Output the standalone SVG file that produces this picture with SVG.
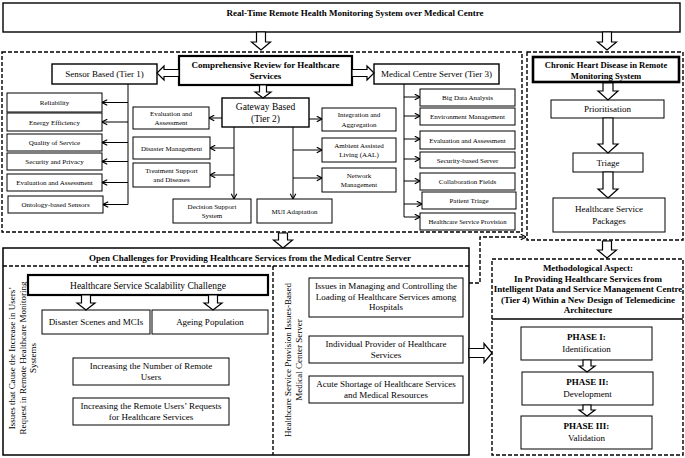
<svg xmlns="http://www.w3.org/2000/svg" width="685" height="458" viewBox="0 0 685 458">
<style>
  text { font-family: "Liberation Serif", "Times New Roman", serif; fill: #000; text-anchor: middle; }
  .b { font-weight: bold; }
  .f9 { font-size: 9px; }
  .f7 { font-size: 7px; }
  .box { fill: #fff; stroke: #000; stroke-width: 1; }
  .box2 { fill: #fff; stroke: #000; stroke-width: 1.4; }
  .thick { fill: #fff; stroke: #000; stroke-width: 2.2; }
  .dash { fill: none; stroke: #000; stroke-width: 1.4; stroke-dasharray: 4 2; }
  .ln { fill: none; stroke: #000; stroke-width: 1; }
  .arr { fill: none; stroke: #000; stroke-width: 1; marker-end: url(#ch); }
</style>
<defs>
  <marker id="ch" viewBox="0 0 10 10" refX="9.5" refY="5" markerWidth="7" markerHeight="7" markerUnits="userSpaceOnUse" orient="auto">
    <path d="M2,1 L9.5,5 L2,9" fill="none" stroke="#000" stroke-width="1.6"/>
  </marker>
</defs>

<!-- frames -->
<g id="frames">
  <rect class="dash" x="2" y="52" width="520" height="180"/>
  <rect class="dash" x="527" y="52" width="156" height="188"/>
</g>

<g id="title">
  <rect class="box2" x="3" y="3" width="677" height="29"/>
  <text class="b f9" x="355" y="16">Real-Time Remote Health Monitoring System over Medical Centre</text>
</g>

<g id="comprehensive">
  <rect class="thick" x="179" y="56" width="173" height="29"/>
  <text class="b f9" x="265.5" y="67.5">Comprehensive Review for Healthcare</text>
  <text class="b f9" x="265.5" y="78.5">Services</text>
</g>

<g id="sensor">
  <rect class="box2" x="52" y="64" width="105" height="20"/>
  <text class="f9" x="104.5" y="77">Sensor Based (Tier 1)</text>
</g>
<g id="mcs">
  <rect class="box2" x="374" y="64" width="125" height="20"/>
  <text class="f9" x="436.5" y="77">Medical Centre Server (Tier 3)</text>
</g>
<g id="gateway">
  <rect class="box2" x="222" y="98" width="87" height="29"/>
  <text style="font-size:9.5px" x="265.5" y="110">Gateway Based</text>
  <text style="font-size:9.5px" x="265.5" y="122">(Tier 2)</text>
</g>

<!-- Tier 1 list -->
<g id="t1-reliability"><rect class="box" x="7" y="93" width="95" height="19"/><text class="f7" x="54.5" y="105">Reliability</text></g>
<g id="t1-energy"><rect class="box" x="7" y="113" width="95" height="18"/><text class="f7" x="54.5" y="124.5">Energy Efficiency</text></g>
<g id="t1-qos"><rect class="box" x="7" y="134" width="95" height="17"/><text class="f7" x="54.5" y="145">Quality of Service</text></g>
<g id="t1-security"><rect class="box" x="7" y="153" width="95" height="17"/><text class="f7" x="54.5" y="164">Security and Privacy</text></g>
<g id="t1-eval"><rect class="box" x="7" y="174" width="95" height="17"/><text class="f7" x="54.5" y="185">Evaluation and Assessment</text></g>
<g id="t1-ontology"><rect class="box" x="8" y="196" width="95" height="17"/><text class="f7" x="55.5" y="207">Ontology-based Sensors</text></g>

<!-- Tier 2 children -->
<g id="t2-eval"><rect class="box" x="133" y="107" width="76" height="22"/><text class="f7" x="171" y="116">Evaluation and</text><text class="f7" x="171" y="125">Assessment</text></g>
<g id="t2-disaster"><rect class="box" x="133" y="137" width="77" height="22"/><text class="f7" x="171.5" y="150.5">Disaster Management</text></g>
<g id="t2-treatment"><rect class="box" x="133" y="163" width="77" height="24"/><text class="f7" x="171.5" y="173">Treatment Support</text><text class="f7" x="171.5" y="182">and Diseases</text></g>
<g id="t2-dss"><rect class="box" x="173" y="199" width="78" height="24"/><text class="f7" x="212" y="209">Decision Support</text><text class="f7" x="212" y="218">System</text></g>
<g id="t2-mui"><rect class="box" x="257" y="199" width="75" height="24"/><text class="f7" x="294.5" y="213.5">MUI Adaptation</text></g>
<g id="t2-integration"><rect class="box" x="322" y="108" width="74" height="23"/><text class="f7" x="359" y="117">Integration and</text><text class="f7" x="359" y="126.5">Aggregation</text></g>
<g id="t2-aal"><rect class="box" x="322" y="138" width="74" height="24"/><text class="f7" x="359" y="148">Ambient Assisted</text><text class="f7" x="359" y="157">Living (AAL)</text></g>
<g id="t2-network"><rect class="box" x="322" y="168" width="74" height="24"/><text class="f7" x="359" y="178">Network</text><text class="f7" x="359" y="187">Management</text></g>

<!-- Tier 3 children -->
<g id="t3-bigdata"><rect class="box" x="420" y="89" width="95" height="17"/><text class="f7" x="467.5" y="100">Big Data Analysis</text></g>
<g id="t3-env"><rect class="box" x="420" y="108" width="95" height="17"/><text class="f7" x="467.5" y="119">Environment Management</text></g>
<g id="t3-eval"><rect class="box" x="420" y="131" width="95" height="18"/><text class="f7" x="467.5" y="142.5">Evaluation and Assessment</text></g>
<g id="t3-security"><rect class="box" x="420" y="152" width="95" height="16"/><text class="f7" x="467.5" y="162.5">Security-based Server</text></g>
<g id="t3-collab"><rect class="box" x="420" y="173" width="95" height="17"/><text class="f7" x="467.5" y="184">Collaboration Fields</text></g>
<g id="t3-triage"><rect class="box" x="422" y="192" width="94" height="17"/><text class="f7" x="469" y="203">Patient Triage</text></g>
<g id="t3-provision"><rect class="box" x="420" y="213" width="95" height="17"/><text style="font-size:6.7px" x="467.5" y="224">Healthcare Service Provision</text></g>

<!-- right column -->
<g id="chronic">
  <rect class="box" x="533" y="57" width="146" height="25" style="stroke-width:2.6"/>
  <text class="b" style="font-size:8.6px" x="606" y="67.5">Chronic Heart Disease in Remote</text>
  <text class="b" style="font-size:8.6px" x="606" y="78.5">Monitoring System</text>
</g>
<g id="prioritisation"><rect class="box" x="551" y="100" width="113" height="18"/><text class="f9" x="607.5" y="112">Prioritisation</text></g>
<g id="triage"><rect class="box" x="573" y="153" width="70" height="19"/><text class="f9" x="608" y="165.5">Triage</text></g>
<g id="packages"><rect class="box" x="553" y="198" width="112" height="34"/><text class="f9" x="609" y="211.5">Healthcare Service</text><text class="f9" x="609" y="223.5">Packages</text></g>

<!-- challenges -->
<g id="challenges">
  <rect class="box2" x="3" y="248" width="466" height="207" style="stroke-width:1.5"/>
  <text class="b f9" x="250" y="261">Open Challenges for Providing Healthcare Services from the Medical Centre Server</text>
  <line class="dash" x1="3" y1="266" x2="469" y2="266"/>
  <line class="dash" x1="273" y1="266" x2="273" y2="455"/>
  <text class="f9" transform="translate(15,358) rotate(-90)"><tspan x="0" y="0">Issues that Cause the Increase in Users’</tspan><tspan x="0" y="10.5">Request in Remote Healthcare Monitoring</tspan><tspan x="0" y="21">Systems</tspan></text>
  <text class="f9" transform="translate(291,360) rotate(-90)"><tspan x="0" y="0">Healthcare Service Provision Issues-Based</tspan><tspan x="0" y="10.5">Medical Center Server</tspan></text>
</g>
<g id="scalability"><rect class="thick" x="28" y="275" width="240" height="20"/><text style="font-size:9.5px" x="148" y="288.5">Healthcare Service Scalability Challenge</text></g>
<g id="disaster"><rect class="box" x="42" y="310" width="108" height="24"/><text class="f9" x="96" y="325">Disaster Scenes and MCIs</text></g>
<g id="ageing"><rect class="box" x="152" y="310" width="116" height="24"/><text class="f9" x="210" y="325">Ageing Population</text></g>
<g id="inc-users"><rect class="box" x="73" y="358" width="156" height="27"/><text class="f9" x="151" y="369">Increasing the Number of Remote</text><text class="f9" x="151" y="380">Users</text></g>
<g id="inc-requests"><rect class="box" x="73" y="398" width="156" height="27"/><text class="f9" x="151" y="409">Increasing the Remote Users’ Requests</text><text class="f9" x="151" y="420">for Healthcare Services</text></g>
<g id="issues-loading"><rect class="box" x="309" y="278" width="154" height="39"/><text class="f9" x="386" y="289">Issues in Managing and Controlling the</text><text class="f9" x="386" y="299.5">Loading of Healthcare Services among</text><text class="f9" x="386" y="310">Hospitals</text></g>
<g id="individual"><rect class="box" x="309" y="336" width="154" height="27"/><text class="f9" x="386" y="347">Individual Provider of Healthcare</text><text class="f9" x="386" y="358">Services</text></g>
<g id="acute"><rect class="box" x="309" y="376" width="154" height="27"/><text class="f9" x="386" y="387">Acute Shortage of Healthcare Services</text><text class="f9" x="386" y="398">and Medical Resources</text></g>

<!-- methodology -->
<g id="methodology">
  <rect class="dash" x="492" y="259" width="191" height="196"/>
  <line class="ln" x1="492" y1="319" x2="683" y2="319" style="stroke-width:1.3"/>
  <text class="b f9" x="588" y="271">Methodological Aspect:</text>
  <text class="b f9" x="588" y="281.5">In Providing Healthcare Services from</text>
  <text class="b f9" x="588" y="292">Intelligent Data and Service Management Centre</text>
  <text class="b f9" x="588" y="302.5">(Tier 4) Within a New Design of Telemedicine</text>
  <text class="b f9" x="588" y="313">Architecture</text>
</g>
<g id="phase1"><rect class="box" x="521" y="327" width="131" height="33"/><text class="b f9" x="586.5" y="340">PHASE I:</text><text class="f9" x="586.5" y="352">Identification</text></g>
<g id="phase2"><rect class="box" x="522" y="372" width="131" height="33"/><text class="b f9" x="587.5" y="385">PHASE II:</text><text class="f9" x="587.5" y="397">Development</text></g>
<g id="phase3"><rect class="box" x="521" y="416" width="131" height="33"/><text class="b f9" x="586.5" y="429">PHASE III:</text><text class="f9" x="586.5" y="441">Validation</text></g>

<!-- connectors -->
<g id="connectors">
  <!-- hollow block arrows -->
  <g fill="#ffffff" stroke="#000000" stroke-width="1.2">
  <path d="M256.5,32 H265.5 V42 H270.5 L261,50 L251.5,42 H256.5 Z"/>
  <path d="M602.5,32 H611.5 V42 H616.5 L607,50 L597.5,42 H602.5 Z"/>
  <path d="M179,69.5 H164 V66 L157,73 L164,80 V76.5 H179 Z"/>
  <path d="M352,69.5 H367 V66 L374,73 L367,80 V76.5 H352 Z"/>
  <path d="M259.5,85 H266.5 V92 H271 L263,98 L255,92 H259.5 Z"/>
  <path d="M278.5,233 H287.5 V240 H292.5 L283,248 L273.5,240 H278.5 Z"/>
  <path d="M603,83 H613 V91 H618 L608,100 L598,91 H603 Z"/>
  <path d="M603,118 H613 V144 H618 L608,153 L598,144 H603 Z"/>
  <path d="M603,172 H613 V189 H618 L608,198 L598,189 H603 Z"/>
  <path d="M602.5,241 H611.5 V250 H616.5 L607,258 L597.5,250 H602.5 Z"/>
  <path d="M81.5,295 H90.5 V303 H95 L86,310 L77,303 H81.5 Z"/>
  <path d="M208.5,295 H217.5 V303 H222 L213,310 L204,303 H208.5 Z"/>
  <path d="M469,348.5 H484 V343.5 L492,353 L484,362.5 V357.5 H469 Z"/>
  <path d="M583,360 H591 V366 H595 L587,372 L579,366 H583 Z"/>
  <path d="M583,405 H591 V410 H595 L587,416 L579,410 H583 Z"/>
  </g>

  <!-- Tier 1 tree -->
  <line class="ln" x1="128" y1="84" x2="128" y2="204.5"/>
  <line class="arr" x1="128" y1="102.5" x2="102" y2="102.5"/>
  <line class="arr" x1="128" y1="122" x2="102" y2="122"/>
  <line class="arr" x1="128" y1="142.5" x2="102" y2="142.5"/>
  <line class="arr" x1="128" y1="161.5" x2="102" y2="161.5"/>
  <line class="arr" x1="128" y1="182.5" x2="102" y2="182.5"/>
  <line class="arr" x1="128" y1="204.5" x2="103" y2="204.5"/>

  <!-- Tier 2 tree -->
  <line class="arr" x1="222" y1="118" x2="209" y2="118"/>
  <line class="arr" x1="234" y1="127" x2="234" y2="199"/>
  <line class="arr" x1="234" y1="148" x2="210" y2="148"/>
  <line class="arr" x1="234" y1="175" x2="210" y2="175"/>
  <line class="arr" x1="293" y1="127" x2="293" y2="199"/>
  <line class="arr" x1="309" y1="119" x2="322" y2="119"/>
  <line class="arr" x1="293" y1="150" x2="322" y2="150"/>
  <line class="arr" x1="293" y1="178" x2="322" y2="178"/>

  <!-- Tier 3 tree -->
  <line class="ln" x1="404" y1="84" x2="404" y2="217"/>
  <line class="arr" x1="404" y1="97" x2="420" y2="97"/>
  <line class="arr" x1="404" y1="116" x2="420" y2="116"/>
  <line class="arr" x1="404" y1="139" x2="420" y2="139"/>
  <line class="arr" x1="404" y1="159" x2="420" y2="159"/>
  <line class="arr" x1="404" y1="181" x2="420" y2="181"/>
  <line class="arr" x1="404" y1="204" x2="422" y2="204"/>
  <line class="arr" x1="404" y1="217" x2="420" y2="217"/>

  <!-- dashed connector -->
  <path class="dash" d="M469,283 H480 V237 H526" style="marker-end:url(#ch)"/>
</g>
</svg>
